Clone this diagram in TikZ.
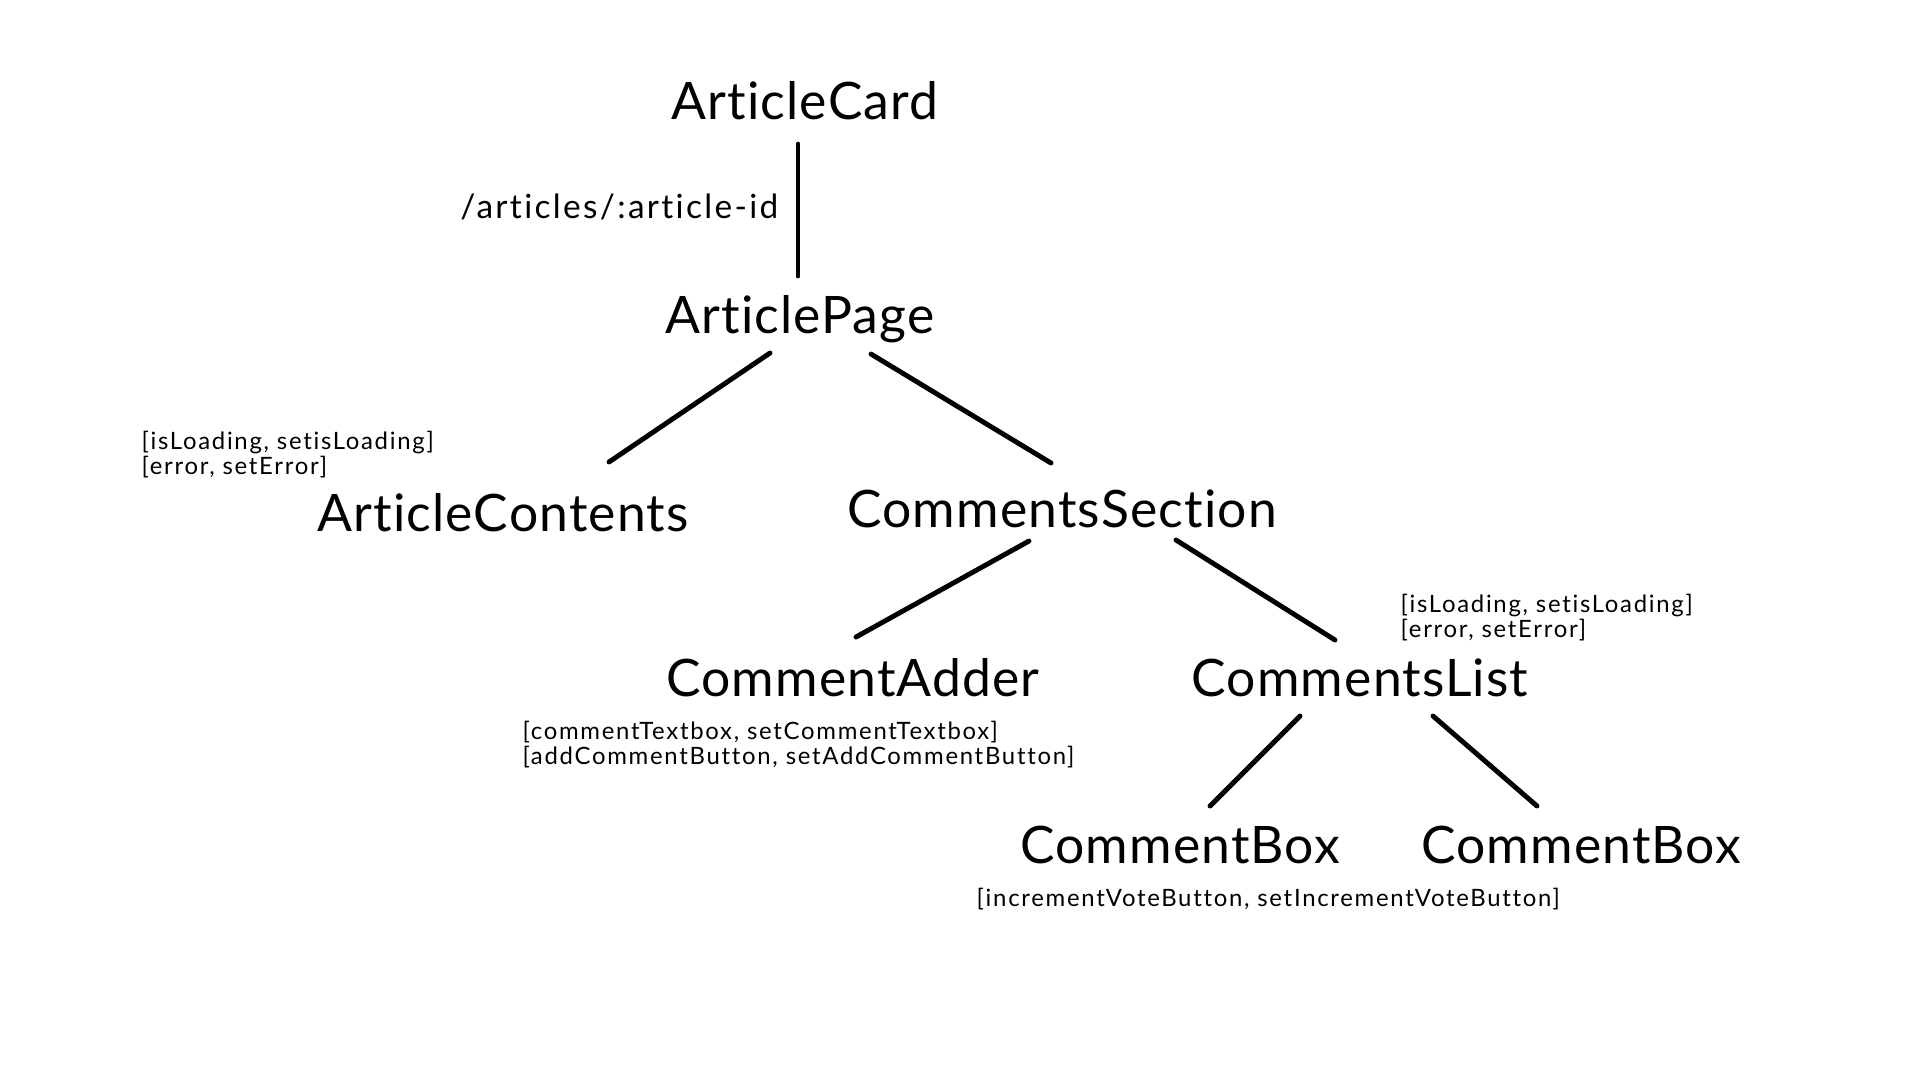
\documentclass[tikz,border=0pt]{standalone}
\usepackage{fontspec}
\setmainfont{Lato}[Ligatures=NoCommon]
\newfontfamily\compfont{Lato}[Ligatures=NoCommon, LetterSpace=2.2]
\newfontfamily\notefont{Lato}[Ligatures=NoCommon, LetterSpace=7.2]
\newfontfamily\routefont{Lato}[Ligatures=NoCommon, LetterSpace=7]
\usetikzlibrary{calc}

\begin{document}
\begin{tikzpicture}[
    x=0.1mm, y=-0.1mm,
    comp/.style={anchor=base, inner sep=0pt, font=\compfont\fontsize{14.7}{17}\selectfont},
    state/.style={anchor=base west, inner sep=0pt, align=left,
                  font=\notefont\fontsize{6.8}{6.9}\selectfont},
    route/.style={anchor=base east, inner sep=0pt, font=\routefont\fontsize{9.5}{11}\selectfont},
    link/.style={line width=1.4pt, line cap=round}
]
    \path[fill=white, use as bounding box] (0,0) rectangle (1920,1080);

    \node[comp] (card)     at (805,119)  {ArticleCard};
    \node[comp] (page)     at (800,333)  {ArticlePage};
    \node[comp] (contents) at (503,531)  {ArticleContents};
    \node[comp] (section)  at (1062,527) {CommentsSection};
    \node[comp] (adder)    at (853,696)  {CommentAdder};
    \node[comp] (list)     at (1360,696) {CommentsList};
    \node[comp] (boxa)     at (1180,863) {CommentBox};
    \node[comp] (boxb)     at (1581,863) {CommentBox};

    \node[route] (route) at (779,218) {/articles/:article-id};
    \node[state] (contentsstate) at (141,474) {[isLoading, setisLoading]\\{[error, setError]}};
    \node[state] (liststate)     at (1400,637) {[isLoading, setisLoading]\\{[error, setError]}};
    \node[state] (adderstate)    at (522,764) {[commentTextbox, setCommentTextbox]\\{[addCommentButton, setAddCommentButton]}};
    \node[state] (boxstate)      at (976,906) {[incrementVoteButton, setIncrementVoteButton]};

    \draw[link] ($(card.base)+(-7,25)$)      -- ($(page.base)+(-2,-57)$);
    \draw[link] ($(page.base)+(-30,20)$)     -- ($(contents.base)+(106,-69)$);
    \draw[link] ($(page.base)+(71,21)$)      -- ($(section.base)+(-11,-64)$);
    \draw[link] ($(section.base)+(-33,14)$)  -- ($(adder.base)+(3,-59)$);
    \draw[link] ($(section.base)+(114,13)$)  -- ($(list.base)+(-25,-56)$);
    \draw[link] ($(list.base)+(-60,20)$)     -- ($(boxa.base)+(30,-57)$);
    \draw[link] ($(list.base)+(73,20)$)      -- ($(boxb.base)+(-44,-57)$);
\end{tikzpicture}
\end{document}
